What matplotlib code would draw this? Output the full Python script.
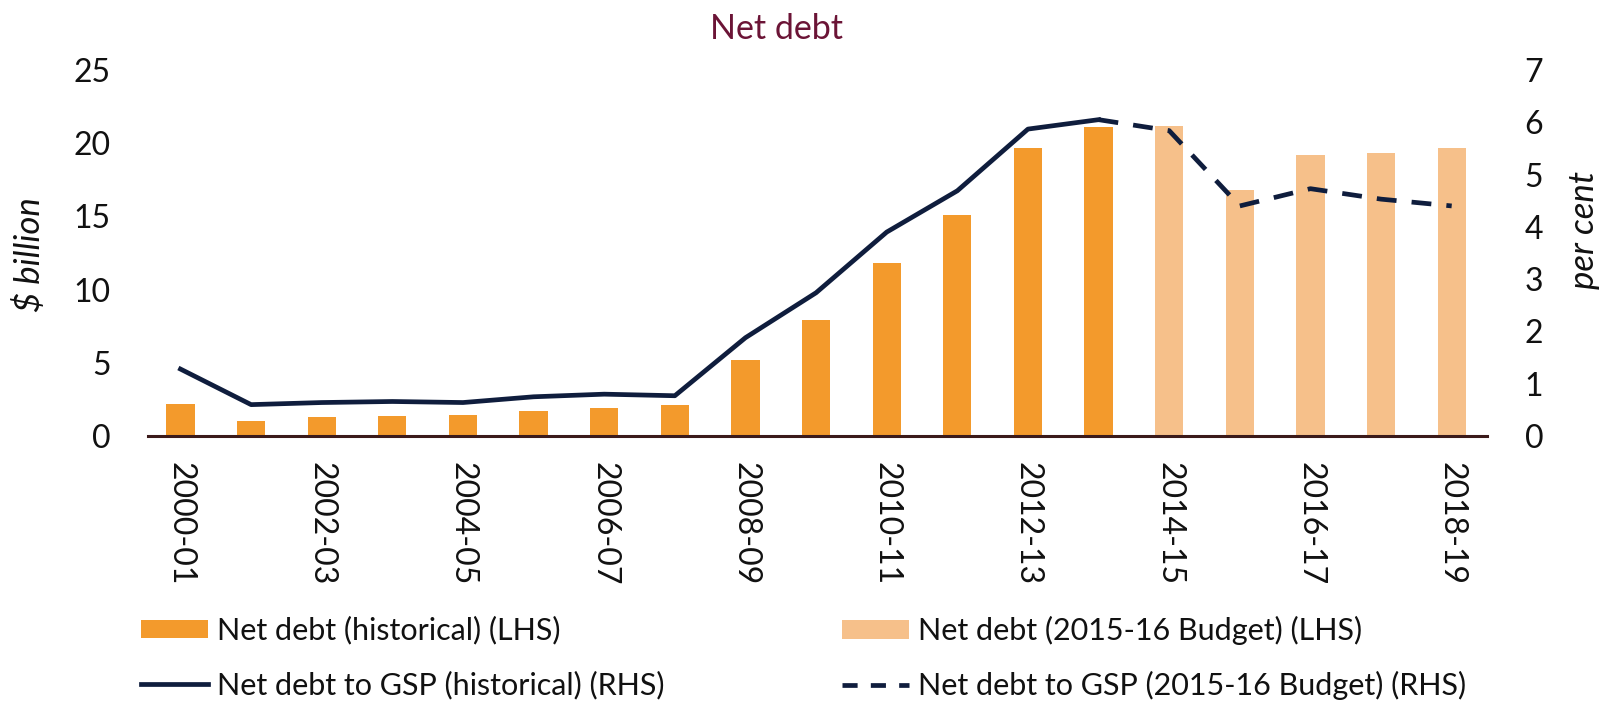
import matplotlib
matplotlib.use("Agg")
import matplotlib.pyplot as plt
from matplotlib.patches import Patch
from matplotlib.lines import Line2D

plt.rcParams['font.family'] = ['Lato', 'DejaVu Sans']

years = ["2000-01", "2001-02", "2002-03", "2003-04", "2004-05", "2005-06", "2006-07",
         "2007-08", "2008-09", "2009-10", "2010-11", "2011-12", "2012-13", "2013-14",
         "2014-15", "2015-16", "2016-17", "2017-18", "2018-19"]
debt_hist = [2.2, 1.05, 1.28, 1.35, 1.42, 1.69, 1.94, 2.1, 5.2, 7.9, 11.8, 15.1, 19.7, 21.1]
debt_budget = [21.2, 16.8, 19.2, 19.3, 19.7]
gsp_hist = [1.28, 0.6, 0.64, 0.66, 0.64, 0.75, 0.8, 0.77, 1.88, 2.74, 3.9, 4.69, 5.87, 6.05]
gsp_budget = [6.05, 5.84, 4.4, 4.73, 4.53, 4.4]
left_ticks = [0, 5, 10, 15, 20, 25]
right_ticks = [0, 1, 2, 3, 4, 5, 6, 7]

c_hist = '#F39A2C'
c_budget = '#F6C08A'
c_line = '#0f1d3d'
txt = '#111111'
fs = 23

W, H = 1600, 710
fig = plt.figure(figsize=(16, 7.1), dpi=100)
ax = fig.add_axes([148 / W, 1 - 436 / H, (1487 - 148) / W, (436 - 70) / H])
ax2 = ax.twinx()

n_hist = len(debt_hist)
x_hist = list(range(n_hist))
x_budget = list(range(n_hist, n_hist + len(debt_budget)))
ax.bar(x_hist, debt_hist, width=0.4, color=c_hist, zorder=2)
ax.bar(x_budget, debt_budget, width=0.4, color=c_budget, zorder=2)

ax2.plot(x_hist, gsp_hist, color=c_line, lw=3.4, solid_joinstyle='round', zorder=3)
x_gb = list(range(n_hist - 1, n_hist - 1 + len(gsp_budget)))
ax2.plot(x_gb, gsp_budget, color=c_line, lw=3.4, dashes=(4.2, 3.2), zorder=3)

ax.set_xlim(-0.46, 18.5)
ax.set_ylim(0, 25)
ax2.set_ylim(0, 7)
ax.set_yticks(left_ticks)
ax2.set_yticks(right_ticks)
ax.set_xticks(range(0, len(years), 2))
ax.set_xticklabels(years[::2], rotation=270, fontsize=fs, color=txt)
ax.tick_params(axis='x', length=0, pad=19)
ax.tick_params(axis='y', length=0, pad=27, labelsize=fs, labelcolor=txt)
ax2.tick_params(axis='y', length=0, pad=27, labelsize=fs, labelcolor=txt)

for a in (ax, ax2):
    for s in ['top', 'left', 'right', 'bottom']:
        a.spines[s].set_visible(False)
ax.spines['bottom'].set_visible(True)
ax.spines['bottom'].set_color('#3b1a1a')
ax.spines['bottom'].set_linewidth(2.2)
ax.spines['bottom'].set_zorder(4)

fig.text(30 / W, 1 - 255 / H, '$ billion', rotation=90, ha='center', va='center',
         fontsize=25, style='italic', color=txt)
fig.text(1584 / W, 1 - 230 / H, 'per cent', rotation=90, ha='center', va='center',
         fontsize=25, style='italic', color=txt)
fig.text(776 / W, 1 - 29 / H, 'Net debt', ha='center', va='center', fontsize=24.5,
         color='#6b1436')

h1 = Patch(facecolor=c_hist, edgecolor='none')
h2 = Line2D([], [], color=c_line, lw=3.4)
h3 = Patch(facecolor=c_budget, edgecolor='none')
h4 = Line2D([], [], color=c_line, lw=3.4, dashes=(3.2, 2.8))
common = dict(frameon=False, fontsize=22, handlelength=2.2, handleheight=0.55,
              handletextpad=0.3, labelspacing=0.85, borderpad=0, borderaxespad=0,
              loc='upper left', labelcolor=txt)
leg1 = fig.legend([h1, h2], ['Net debt (historical) (LHS)', 'Net debt to GSP (historical) (RHS)'],
                  bbox_to_anchor=(141 / W, 1 - 616 / H), **common)
leg2 = fig.legend([h3, h4], ['Net debt (2015-16 Budget) (LHS)', 'Net debt to GSP (2015-16 Budget) (RHS)'],
                  bbox_to_anchor=(842 / W, 1 - 616 / H), **common)

fig.savefig('out.png', dpi=100, facecolor='white')
